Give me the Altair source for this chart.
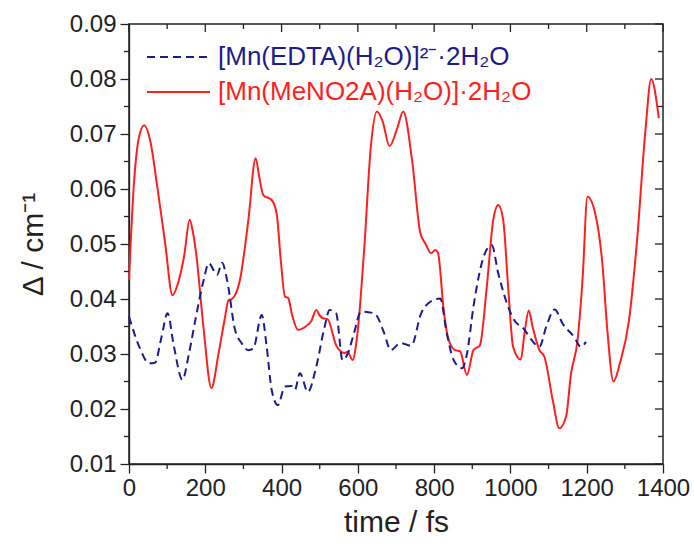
import altair as alt
import pandas as pd

# Energy gap Δ (cm^-1) along the MD trajectory for the two Mn(II) complexes
red_t = [0, 12, 25, 40, 55, 75, 95, 114, 131, 145, 159, 168, 176, 195, 216, 235, 250, 261,
         270, 291, 313, 332, 342, 352, 374, 387, 398, 409, 417, 428, 443, 465, 478, 491, 500,
         508, 521, 543, 565, 573, 586, 599, 617, 634, 650, 665, 683, 703, 719, 742, 764, 777,
         792, 803, 810, 825, 836, 855, 868, 886, 903, 920, 938, 955, 968, 981, 994, 1007, 1027,
         1037, 1048, 1058, 1076, 1089, 1111, 1128, 1146, 1159, 1176, 1189, 1202, 1224, 1241,
         1254, 1270, 1287, 1311, 1332, 1354, 1369, 1389]
red_v = [0.0435, 0.060, 0.069, 0.0716, 0.069, 0.060, 0.050, 0.0407, 0.0435, 0.048, 0.0544,
         0.052, 0.0483, 0.035, 0.0238, 0.0302, 0.036, 0.0398, 0.040, 0.0435, 0.0544, 0.0656,
         0.062, 0.0589, 0.058, 0.0556, 0.047, 0.0404, 0.0402, 0.037, 0.0344, 0.0351, 0.036,
         0.038, 0.037, 0.0365, 0.0363, 0.0316, 0.0302, 0.0304, 0.0289, 0.0338, 0.0495, 0.0677,
         0.0741, 0.0723, 0.0678, 0.071, 0.0741, 0.0653, 0.0519, 0.0501, 0.0483, 0.0489, 0.0484,
         0.038, 0.0331, 0.0307, 0.0305, 0.0262, 0.0307, 0.0316, 0.0422, 0.0544, 0.0571, 0.0544,
         0.0422, 0.0313, 0.029, 0.0338, 0.0379, 0.035, 0.0307, 0.0295, 0.0216, 0.0165, 0.0187,
         0.0265, 0.0325, 0.0435, 0.0586, 0.055, 0.0465, 0.0344, 0.025, 0.0283, 0.0362, 0.0507,
         0.0707, 0.0800, 0.0729]

blue_t = [0, 27, 53, 68, 85, 101, 118, 140, 157, 174, 196, 209, 231, 244, 257, 278, 295, 313,
          326, 348, 361, 374, 390, 409, 426, 435, 448, 469, 491, 513, 526, 543, 560, 573, 590,
          608, 643, 669, 686, 712, 740, 766, 790, 816, 833, 851, 873, 886, 903, 933, 951, 968,
          994, 1007, 1037, 1055, 1076, 1094, 1116, 1137, 1167, 1185, 1198]
blue_v = [0.0368, 0.0313, 0.0283, 0.0284, 0.033, 0.0374, 0.0313, 0.0253, 0.030, 0.0362, 0.0435,
          0.0465, 0.0444, 0.0466, 0.0435, 0.0344, 0.032, 0.0307, 0.031, 0.0371, 0.0313, 0.0235,
          0.0207, 0.0241, 0.0242, 0.0235, 0.0265, 0.0231, 0.0277, 0.0350, 0.0380, 0.0374, 0.0289,
          0.030, 0.0338, 0.0377, 0.0374, 0.0338, 0.0307, 0.0320, 0.0315, 0.0374, 0.0395, 0.0401,
          0.0338, 0.0289, 0.0274, 0.030, 0.0386, 0.0483, 0.0498, 0.0447, 0.0386, 0.0365, 0.0344,
          0.0326, 0.0313, 0.0350, 0.0381, 0.0355, 0.0331, 0.0313, 0.0322]

x_major = [0, 200, 400, 600, 800, 1000, 1200, 1400]
x_minor = [100, 300, 500, 700, 900, 1100, 1300]
y_major = [0.01, 0.02, 0.03, 0.04, 0.05, 0.06, 0.07, 0.08, 0.09]
y_minor = [0.015, 0.025, 0.035, 0.045, 0.055, 0.065, 0.075, 0.085]

label_edta = "[Mn(EDTA)(H\u2082O)]\u00b2\u207b\u00b72H\u2082O"
label_meno = "[Mn(MeNO2A)(H\u2082O)]\u00b72H\u2082O"

RED = "#ff1f1f"
BLUE = "#1c1c8c"
INK = "#222222"
FONT = "Liberation Sans"
W, H = 534, 440

red_df = pd.DataFrame({"t": red_t, "v": red_v})
blue_df = pd.DataFrame({"t": blue_t, "v": blue_v})

xs = alt.Scale(domain=[0, 1400], nice=False, zero=False)
ys = alt.Scale(domain=[0.01, 0.09], nice=False, zero=False)

common = dict(grid=False, tickColor=INK, domainColor=INK, tickWidth=1.3, domainWidth=1.3,
              labelFont=FONT, labelFontSize=24, labelColor=INK, titleFont=FONT,
              titleColor=INK, titleFontWeight="normal", titleFontSize=30,
              labelOverlap=False, labelFlush=False, labelBound=False, tickSize=9)

red_line = alt.Chart(red_df).mark_line(color=RED, strokeWidth=2, interpolate="monotone").encode(
    x=alt.X("t:Q", scale=xs, axis=alt.Axis(
        orient="bottom", values=x_major, labelPadding=3, format="d",
        title="time / fs", titleY=58, titleBaseline="middle", **common)),
    y=alt.Y("v:Q", scale=ys, axis=alt.Axis(
        orient="left", values=y_major, labelPadding=4, format=".2f",
        title="\u0394 / cm\u207b\u00b9", titleX=-96, titleBaseline="middle", **common)),
)

blue_line = alt.Chart(blue_df).mark_line(
    color=BLUE, strokeWidth=2, strokeDash=[8, 5], interpolate="monotone").encode(
    x=alt.X("t:Q", scale=xs), y=alt.Y("v:Q", scale=ys))

# extra tick marks: minor ticks outside bottom/left, inward ticks on top/right edges
xmaj_df = pd.DataFrame({"t": x_major})
xmin_df = pd.DataFrame({"t": x_minor})
ymaj_df = pd.DataFrame({"v": y_major})
ymin_df = pd.DataFrame({"v": y_minor})

tick_style = dict(color=INK, strokeWidth=1.3)


def xticks(df, y0, y1):
    return alt.Chart(df).mark_rule(**tick_style).encode(
        x=alt.X("t:Q", scale=xs), y=alt.value(y0), y2=alt.value(y1))


def yticks(df, x0, x1):
    return alt.Chart(df).mark_rule(**tick_style).encode(
        y=alt.Y("v:Q", scale=ys), x=alt.value(x0), x2=alt.value(x1))


tick_layers = [
    xticks(xmin_df, H, H + 5),
    yticks(ymin_df, -5, 0),
    xticks(xmaj_df, 0, 8),
    xticks(xmin_df, 0, 5),
    yticks(ymaj_df, W - 8, W),
    yticks(ymin_df, W - 5, W),
]

# legend in the upper left corner of the plot
leg_blue_line = alt.Chart().mark_rule(color=BLUE, strokeWidth=2, strokeDash=[8, 5]).encode(
    x=alt.value(18), x2=alt.value(81), y=alt.value(33))
leg_red_line = alt.Chart().mark_rule(color=RED, strokeWidth=2).encode(
    x=alt.value(18), x2=alt.value(81), y=alt.value(68))
leg_blue_text = alt.Chart().mark_text(
    align="left", baseline="middle", font=FONT, fontSize=26, color=BLUE, text=label_edta
).encode(x=alt.value(89), y=alt.value(33))
leg_red_text = alt.Chart().mark_text(
    align="left", baseline="middle", font=FONT, fontSize=26, color=RED, text=label_meno
).encode(x=alt.value(89), y=alt.value(68))

chart = alt.layer(
    red_line, blue_line, *tick_layers,
    leg_blue_line, leg_red_line, leg_blue_text, leg_red_text,
).properties(
    width=W, height=H,
    autosize=alt.AutoSizeParams(type="none"),
    padding={"left": 129, "top": 24, "right": 31, "bottom": 90},
    background="white",
).configure_view(stroke=INK, strokeWidth=1.5)

chart.save("out.html", embed_options={"renderer": "svg", "actions": False})
